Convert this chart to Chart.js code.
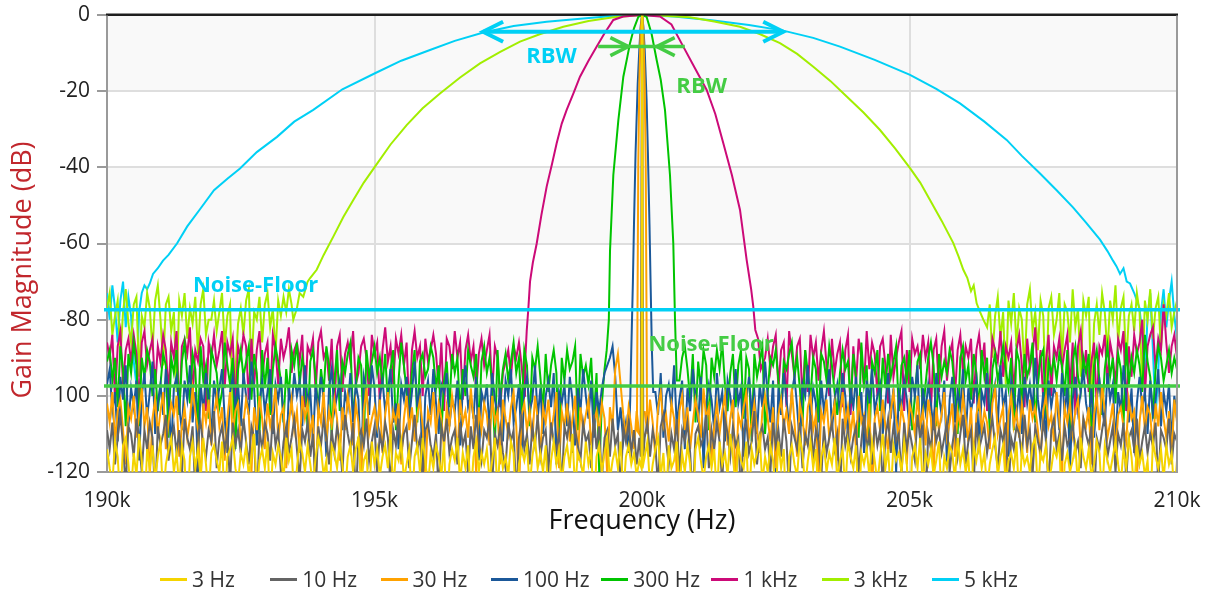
<!DOCTYPE html>
<html>
<head>
<meta charset="utf-8">
<title>RBW sweep – gain magnitude</title>
<script src="https://cdn.jsdelivr.net/npm/chart.js@4.4.1/dist/chart.umd.min.js"></script>
<style>
  html, body { margin: 0; padding: 0; background: #fff; }
  #wrap { position: relative; width: 1210px; height: 592px; overflow: hidden; }
  #chart { position: absolute; left: 0; top: 0; }
  #legend { position: absolute; left: 160px; top: 566px; height: 26px; display: flex; }
  .item { width: 110.3px; display: flex; align-items: center; height: 26px;
          font-family: 'Open Sans', 'Noto Sans', sans-serif; font-size: 21px; color: #333; white-space: nowrap; }
  .swatch { width: 27px; height: 3px; margin-right: 5px; }
</style>
</head>
<body>
<div id="wrap">
  <canvas id="chart" width="1210" height="592"></canvas>
  <div id="legend"></div>
</div>
<script>
// Frequency grid of the noise traces (Hz)
const GRID_START = 190000;
const GRID_END = 210000;
const GRID_STEP = 50;

const SERIES_NAMES = ['3 Hz', '10 Hz', '30 Hz', '100 Hz', '300 Hz', '1 kHz', '3 kHz', '5 kHz'];
const SERIES_COLORS = ['#f5d400', '#646464', '#ffa200', '#1b5899', '#00c400', '#cc0a78', '#a2ee00', '#00d0f5'];

// ---- 3 Hz RBW ----
const HZ3_LEFT = [
-114,-119,-123,-112,-116,-128,-113,-111,-118,-125,
-115,-121,-110,-117,-131,-114,-119,-113,-122,-116,
-112,-127,-118,-114,-111,-120,-115,-124,-113,-117,
-133,-116,-112,-119,-114,-121,-111,-118,-126,-115,
-113,-117,-120,-112,-129,-116,-114,-111,-119,-123,
-115,-118,-113,-121,-116,-110,-125,-117,-114,-119,
-112,-130,-115,-118,-113,-116,-122,-111,-117,-114,
-127,-119,-112,-115,-120,-113,-118,-124,-116,-111,
-114,-121,-117,-132,-113,-115,-119,-112,-118,-126,
-116,-113,-120,-114,-111,-123,-117,-115,-128,-112,
-118,-114,-121,-116,-113,-119,-110,-125,-115,-117,
-112,-122,-118,-114,-129,-116,-113,-120,-111,-117,
-124,-115,-119,-113,-116,-121,-112,-134,-118,-114,
-117,-111,-123,-115,-119,-113,-127,-116,-112,-120,
-115,-118,-114,-122,-117,-111,-126,-113,-119,-116,
-121,-112,-115,-131,-118,-114,-117,-113,-124,-116,
-111,-119,-115,-120,-113,-128,-117,-112,-118,-114,
-123,-116,-113,-119,-110,-125,-115,-117,-121,-112,
-118,-114,-130,-116,-113,-120,-115,-111,-122,-117,
-114,-119,-112,-126,-116,-113,-118,-115,-121,-117];
const HZ3_PEAK_F = [199990, 200000, 200010];
const HZ3_PEAK_DB = [-119, 0, -119];
const HZ3_RIGHT = [
-116,-112,-124,-118,-114,-111,-121,-115,-128,-113,
-119,-117,-112,-125,-115,-120,-113,-118,-131,-114,
-111,-117,-122,-116,-113,-119,-114,-127,-112,-118,
-115,-121,-110,-116,-124,-113,-117,-119,-112,-129,
-114,-118,-115,-111,-123,-116,-120,-113,-117,-126,
-112,-119,-114,-133,-116,-113,-118,-121,-111,-115,
-124,-117,-112,-119,-114,-128,-116,-113,-120,-115,
-118,-111,-122,-117,-114,-125,-112,-116,-119,-113,
-130,-115,-118,-114,-121,-112,-117,-123,-116,-110,
-119,-114,-126,-113,-117,-115,-120,-112,-118,-132,
-116,-113,-119,-111,-124,-115,-118,-114,-121,-117,
-112,-127,-116,-119,-113,-115,-122,-111,-118,-114,
-120,-116,-129,-113,-117,-112,-119,-115,-125,-118,
-114,-111,-121,-116,-113,-123,-117,-115,-119,-112,
-128,-114,-118,-116,-120,-113,-111,-126,-115,-117,
-113,-122,-119,-114,-116,-112,-131,-118,-115,-120,
-117,-113,-124,-111,-116,-119,-114,-121,-118,-112,
-115,-127,-113,-117,-120,-116,-112,-118,-123,-114,
-119,-111,-116,-125,-113,-118,-115,-121,-117,-130,
-112,-116,-119,-114,-122,-113,-118,-115,-126,-117];

// ---- 10 Hz RBW ----
const HZ10_LEFT = [
-109,-114,-107,-118,-111,-105,-113,-124,-108,-110,
-116,-106,-112,-120,-109,-114,-107,-111,-127,-108,
-113,-110,-105,-117,-112,-108,-115,-109,-121,-106,
-111,-114,-108,-126,-110,-107,-113,-116,-109,-112,
-104,-119,-111,-108,-114,-110,-123,-107,-113,-109,
-115,-106,-112,-118,-108,-111,-129,-109,-114,-107,
-110,-117,-105,-113,-109,-120,-112,-108,-115,-111,
-106,-114,-122,-109,-112,-107,-116,-110,-125,-108,
-113,-106,-111,-118,-109,-115,-108,-112,-121,-105,
-110,-114,-107,-128,-111,-109,-113,-106,-117,-112,
-108,-120,-110,-114,-107,-111,-124,-109,-113,-106,
-115,-110,-108,-119,-112,-105,-114,-111,-122,-109,
-107,-113,-116,-110,-126,-108,-112,-106,-115,-111,
-109,-118,-107,-113,-110,-121,-108,-114,-105,-112,
-117,-109,-111,-106,-123,-110,-113,-108,-115,-119,
-107,-112,-109,-127,-111,-106,-114,-110,-118,-108,
-113,-105,-116,-111,-109,-120,-107,-112,-114,-110,
-124,-108,-111,-106,-115,-109,-113,-117,-107,-112,
-110,-119,-105,-114,-108,-122,-111,-109,-116,-106,
-113,-110,-125,-108,-112,-107,-115,-109,-118,-111];
const HZ10_PEAK_F = [199975, 199990, 200000, 200010, 200025];
const HZ10_PEAK_DB = [-116, -45, 0, -45, -116];
const HZ10_RIGHT = [
-111,-107,-116,-109,-113,-124,-108,-105,-112,-118,
-110,-114,-106,-121,-109,-112,-107,-115,-128,-110,
-108,-113,-111,-105,-119,-109,-114,-107,-112,-123,
-106,-110,-116,-108,-113,-111,-126,-109,-107,-115,
-112,-104,-118,-110,-108,-114,-111,-120,-107,-113,
-109,-116,-106,-112,-125,-108,-111,-114,-107,-119,
-110,-113,-105,-117,-109,-112,-122,-108,-115,-111,
-107,-114,-110,-127,-106,-113,-109,-116,-111,-108,
-120,-112,-105,-114,-110,-118,-107,-113,-109,-124,
-111,-106,-115,-108,-112,-110,-121,-107,-114,-109,
-113,-117,-105,-111,-108,-129,-110,-114,-106,-112,
-109,-115,-111,-107,-120,-113,-108,-116,-110,-105,
-118,-112,-109,-123,-107,-114,-111,-108,-115,-110,
-106,-113,-119,-109,-112,-107,-126,-111,-114,-108,
-110,-116,-105,-113,-109,-121,-108,-112,-115,-107,
-111,-124,-109,-106,-114,-110,-117,-108,-113,-111,
-107,-115,-112,-119,-106,-110,-113,-108,-128,-111,
-114,-109,-105,-116,-112,-108,-120,-110,-113,-107,
-122,-111,-109,-114,-106,-117,-112,-108,-115,-110,
-113,-107,-123,-109,-111,-114,-106,-118,-110,-112];

// ---- 30 Hz RBW ----
const HZ30_LEFT = [
-102,-107,-99,-112,-104,-101,-109,-118,-103,-106,
-100,-111,-105,-98,-108,-103,-121,-106,-101,-110,
-104,-99,-114,-107,-102,-105,-100,-116,-108,-103,
-111,-106,-98,-104,-109,-124,-102,-107,-101,-113,
-105,-100,-108,-103,-117,-106,-99,-110,-104,-102,
-112,-107,-101,-105,-120,-103,-109,-100,-106,-114,
-102,-108,-104,-98,-111,-105,-103,-119,-107,-101,
-109,-104,-115,-100,-106,-102,-110,-105,-126,-103,
-107,-99,-112,-104,-108,-101,-106,-117,-103,-109,
-100,-105,-113,-102,-107,-122,-104,-98,-110,-106,
-103,-108,-101,-115,-105,-99,-111,-104,-107,-102,
-118,-106,-100,-109,-103,-112,-105,-101,-108,-123,
-104,-107,-99,-110,-102,-106,-114,-103,-108,-100,
-105,-116,-101,-107,-104,-111,-98,-106,-120,-103,
-109,-102,-105,-113,-100,-107,-104,-118,-101,-106,
-110,-103,-99,-108,-125,-105,-102,-109,-104,-112,
-100,-106,-115,-103,-107,-101,-110,-105,-99,-119,
-104,-108,-102,-112,-106,-100,-117,-103,-109,-105,
-101,-113,-107,-104,-110,-102,-106,-121,-103,-108,
-93,-89,-97,-105,-111,-103,-108,-114,-104,-110];
const HZ30_PEAK_F = [199905, 199915, 199930, 199950, 199975, 200000, 200025, 200050, 200070, 200085, 200095];
const HZ30_PEAK_DB = [-109, -80, -40, -18, -4, 0, -4, -18, -40, -80, -108];
const HZ30_RIGHT = [
-104,-110,-101,-107,-116,-103,-99,-108,-105,-112,
-102,-106,-120,-104,-100,-109,-103,-114,-107,-101,
-105,-111,-98,-106,-103,-118,-108,-102,-110,-104,
-100,-113,-106,-101,-124,-105,-108,-103,-99,-111,
-107,-102,-109,-115,-104,-100,-106,-112,-103,-119,
-105,-101,-108,-104,-110,-98,-107,-116,-102,-106,
-113,-103,-100,-109,-105,-122,-104,-107,-101,-111,
-106,-102,-117,-105,-99,-108,-103,-110,-104,-114,
-100,-107,-105,-112,-102,-126,-106,-103,-109,-101,
-108,-115,-104,-99,-106,-111,-103,-107,-118,-102,
-105,-110,-100,-108,-104,-113,-101,-106,-121,-103,
-109,-105,-99,-111,-107,-102,-116,-104,-108,-100,
-106,-112,-103,-119,-105,-101,-109,-104,-107,-114,
-102,-98,-110,-106,-103,-123,-105,-100,-108,-104,
-111,-102,-107,-115,-101,-106,-103,-109,-117,-104,
-100,-108,-105,-112,-99,-106,-120,-103,-107,-102,
-110,-104,-101,-113,-106,-108,-103,-118,-105,-100,
-109,-97,-104,-111,-107,-102,-115,-105,-103,-108,
-112,-101,-106,-104,-122,-107,-100,-109,-103,-105,
-114,-102,-108,-99,-106,-111,-104,-116,-101,-107];

// ---- 100 Hz RBW ----
const HZ100_LEFT = [
-97,-93,-104,-99,-112,-95,-101,-92,-108,-98,
-103,-96,-117,-100,-94,-106,-99,-91,-110,-102,
-97,-105,-93,-100,-114,-98,-95,-103,-109,-96,
-101,-92,-107,-99,-120,-97,-104,-94,-100,-111,
-96,-102,-98,-93,-106,-115,-99,-95,-103,-97,
-108,-94,-100,-105,-91,-98,-113,-102,-96,-104,
-99,-93,-110,-97,-101,-95,-106,-118,-98,-103,
-94,-100,-96,-108,-92,-102,-99,-112,-97,-105,
-95,-101,-116,-98,-93,-104,-100,-96,-109,-99,
-103,-94,-107,-97,-101,-121,-95,-99,-105,-92,
-98,-111,-100,-96,-104,-99,-93,-107,-102,-114,
-97,-101,-95,-106,-99,-91,-103,-98,-119,-100,
-96,-105,-93,-102,-110,-97,-99,-94,-108,-101,
-104,-96,-113,-98,-92,-103,-100,-106,-95,-117,
-99,-102,-97,-109,-94,-101,-105,-98,-112,-96,
-100,-93,-107,-103,-97,-115,-99,-95,-104,-101,
-92,-106,-98,-110,-100,-96,-103,-94,-118,-99,
-102,-97,-108,-95,-101,-113,-98,-104,-93,-100,
-106,-96,-111,-99,-104,-98,-94,-92,-90,-87,
-95,-109,-103,-112,-107,-115];
const HZ100_PEAK_F = [199780, 199800, 199830, 199850, 199880, 199920, 199950, 199975, 200000, 200025, 200050, 200085, 200110, 200140, 200160, 200185, 200210];
const HZ100_PEAK_DB = [-101, -88, -70, -55, -36, -18, -9, -3, 0, -3, -9, -22, -36, -55, -70, -88, -99];
const HZ100_RIGHT = [
-99,-105,-94,-111,-100,-97,-103,-92,-108,-101,
-96,-114,-98,-104,-93,-100,-107,-95,-119,-102,
-97,-101,-109,-94,-103,-99,-112,-96,-100,-106,
-93,-102,-98,-116,-101,-95,-104,-99,-110,-97,
-103,-91,-100,-107,-96,-121,-98,-105,-94,-101,
-108,-99,-95,-103,-113,-97,-100,-92,-106,-98,
-102,-117,-96,-104,-99,-93,-109,-101,-97,-105,
-94,-100,-111,-98,-103,-95,-107,-99,-115,-96,
-101,-93,-104,-100,-97,-110,-102,-94,-106,-98,
-120,-99,-103,-96,-101,-108,-95,-100,-92,-113,
-98,-104,-97,-102,-109,-94,-100,-105,-96,-118,
-101,-95,-107,-99,-103,-93,-111,-98,-104,-100,
-96,-114,-99,-102,-94,-106,-101,-97,-108,-92,
-103,-99,-116,-96,-100,-105,-98,-110,-95,-102,
-97,-104,-90,-101,-107,-99,-112,-96,-103,-98,
-100,-109,-94,-105,-97,-119,-101,-95,-104,-99,
-93,-102,-106,-98,-111,-100,-96,-103,-108,-94,
-101,-97,-113,-99,-104,-92,-100,-107,-98,-115,
-102,-95,-103,-99,-110,-96,-105,-101,-93,-108,
-99,-104,-97,-112,-100,-106];

// ---- 300 Hz RBW ----
const HZ300_LEFT = [
-91,-88,-96,-90,-103,-87,-93,-108,-89,-94,
-86,-92,-108,-90,-95,-88,-91,-100,-93,-104,
-97,-89,-92,-111,-90,-94,-88,-105,-91,-86,
-95,-102,-89,-93,-109,-87,-96,-92,-106,-88,
-91,-94,-103,-99,-86,-92,-97,-90,-114,-93,
-88,-95,-91,-87,-101,-89,-94,-110,-88,-98,
-90,-105,-93,-87,-91,-96,-107,-93,-100,-88,
-92,-86,-97,-90,-94,-109,-91,-88,-95,-104,
-93,-99,-87,-92,-111,-96,-88,-104,-91,-94,
-89,-86,-106,-98,-90,-92,-112,-88,-95,-91,
-87,-94,-90,-97,-89,-102,-93,-88,-109,-96,
-86,-92,-99,-104,-94,-88,-107,-91,-89,-95,
-93,-87,-90,-98,-92,-110,-96,-91,-103,-89,
-94,-90,-105,-93,-100,-88,-92,-95,-89,-110,
-91,-87,-94,-90,-97,-113,-88,-101,-93,-89,
-96,-91,-86,-94,-90,-105,-88,-92,-108,-90,
-93,-87,-95,-104,-89,-99,-92,-88,-94,-115,
-90,-96,-88,-93,-91,-87,-109,-89,-95,-92,
-97,-90,-106,-94,-120,-102,-93];
const HZ300_PEAK_F = [199340, 199380, 199402, 199464, 199558, 199651, 199726, 199776, 199850, 199931, 200000, 200087, 200180, 200274, 200350, 200430, 200523, 200585, 200617, 200650];
const HZ300_PEAK_DB = [-88, -80, -62, -42, -27.6, -16.2, -11, -7.4, -3.5, -0.5, 0, -0.5, -5, -11.8, -17, -25, -42, -60, -80, -96];
const HZ300_RIGHT = [
-96,-90,-87,-93,-101,-89,-107,-91,-98,-88,
-92,-109,-90,-95,-88,-93,-86,-97,-104,-94,
-89,-103,-92,-88,-106,-90,-93,-112,-89,-95,
-91,-87,-110,-99,-90,-92,-88,-96,-105,-91,
-93,-89,-86,-95,-90,-98,-108,-88,-94,-100,
-90,-93,-107,-89,-91,-96,-87,-92,-99,-105,
-94,-88,-93,-91,-102,-89,-95,-111,-86,-97,
-92,-113,-91,-94,-88,-104,-90,-98,-89,-95,
-91,-87,-104,-92,-90,-96,-88,-109,-100,-91,
-89,-105,-97,-90,-86,-92,-108,-89,-95,-91,
-94,-88,-91,-99,-110,-90,-87,-96,-92,-101,
-89,-94,-104,-88,-95,-90,-110,-93,-89,-96,
-92,-87,-93,-98,-90,-109,-88,-91,-103,-89,
-95,-92,-86,-107,-97,-90,-88,-106,-91,-94,
-90,-96,-89,-92,-100,-88,-112,-91,-87,-95,
-99,-90,-94,-89,-114,-92,-88,-96,-105,-93,
-87,-95,-90,-102,-89,-93,-108,-86,-97,-90,
-94,-88,-92,-99,-84,-91,-95,-106,-93,-87,
-90,-96,-92,-88,-94,-90,-93];

// ---- 1 kHz RBW ----
const KHZ1_LEFT = [
-86,-90,-84,-101,-87,-83,-97,-88,-85,-91,
-84,-89,-102,-86,-83,-92,-88,-85,-98,-87,
-91,-84,-88,-99,-86,-90,-83,-105,-87,-85,
-89,-82,-100,-88,-91,-85,-87,-104,-86,-90,
-84,-92,-88,-83,-98,-86,-89,-85,-103,-87,
-90,-84,-87,-101,-85,-97,-88,-83,-95,-89,
-86,-102,-84,-88,-97,-85,-90,-87,-82,-94,
-88,-86,-91,-84,-103,-87,-89,-85,-99,-86,
-83,-90,-88,-96,-85,-104,-87,-84,-99,-89,
-86,-91,-83,-97,-94,-87,-85,-90,-100,-84,
-89,-86,-102,-88,-82,-91,-87,-97,-85,-89,
-84,-92,-86,-105,-88,-83,-90,-87,-100,-85,
-91,-88,-84,-89,-98,-86,-104,-85,-87,-93,
-83,-90,-86,-101,-88,-84,-91,-87,-99,-89,
-85,-92,-88,-84,-99,-87,-90,-103,-94,-91,
-88,-95,-87,-90,-86,-92];
const KHZ1_PEAK_F = [197800, 197813, 197845, 197876, 197907, 197960, 198032, 198120, 198219, 198320, 198405, 198500, 198592, 198720, 198841, 199000, 199154, 199300, 199464, 199650, 200000, 200336, 200550, 200772, 200990, 201209, 201370, 201520, 201680, 201832, 201956, 202040, 202080, 202118, 202170, 202220];
const KHZ1_PEAK_DB = [-100, -92, -83, -77, -70, -65, -60, -52.5, -45, -39, -33.7, -28.5, -24.9, -20.5, -16.2, -12, -8.3, -4.8, -1.3, -0.4, 0, -0.4, -2.5, -8.3, -14, -19.7, -26, -33.7, -42, -51.2, -64.3, -72, -76.6, -82.7, -85, -93];
const KHZ1_RIGHT = [
-90,-85,-93,-87,-84,-98,-88,-86,-103,-83,
-89,-95,-87,-85,-101,-88,-99,-84,-90,-86,
-96,-88,-83,-92,-100,-85,-94,-89,-86,-103,
-88,-84,-105,-87,-97,-85,-90,-98,-83,-93,
-86,-89,-100,-87,-85,-92,-102,-84,-95,-90,
-86,-83,-104,-88,-99,-85,-89,-87,-93,-84,
-90,-86,-104,-88,-85,-99,-87,-83,-96,-89,
-86,-100,-88,-84,-94,-87,-90,-85,-102,-88,
-84,-92,-86,-104,-97,-85,-88,-91,-83,-95,
-87,-90,-86,-99,-88,-84,-92,-103,-85,-93,
-89,-82,-96,-88,-101,-91,-84,-100,-87,-90,
-85,-93,-88,-84,-98,-86,-105,-87,-83,-94,
-88,-99,-91,-86,-103,-87,-89,-84,-97,-86,
-90,-97,-85,-88,-83,-104,-87,-95,-84,-89,
-86,-80,-100,-87,-84,-82,-93,-85,-88,-76,
-86,-94,-87,-84,-90];

// ---- 3 kHz RBW ----
const KHZ3_LEFT = [
-77,-73,-84,-79,-75,-90,-78,-72,-81,-86,
-76,-74,-95,-79,-82,-73,-77,-88,-75,-71,
-80,-92,-76,-74,-83,-78,-99,-75,-79,-73,
-85,-77,-81,-74,-89,-76,-72,-84,-80,-80,
-75,-83,-78,-73,-87,-79,-76,-106,-94,-81,
-77,-84,-75,-72,-93,-78,-80,-74,-86,-76,
-73,-82,-77,-89,-75,-79,-74,-78,-72,-76];
const KHZ3_PEAK_F = [193482, 193550, 193600, 193669, 193750, 193800, 193919, 194050, 194230, 194420, 194604, 194800, 195009, 195300, 195601, 195900, 196224, 196600, 196972, 197350, 197720, 198100, 198529, 199000, 199464, 200000, 200400, 200897, 201350, 201832, 202200, 202579, 202900, 203202, 203520, 203826, 204140, 204449, 204730, 205010, 205200, 205383, 205600, 205819, 205920, 206006, 206080, 206150, 206200, 206255, 206320, 206380];
const KHZ3_PEAK_DB = [-80, -77, -73, -74, -70, -69, -66.9, -63, -58.2, -53, -48.6, -44, -39.8, -34, -28.9, -24.5, -20.6, -16.4, -12.7, -9.7, -7, -5, -3.1, -1.6, -0.6, 0, -0.2, -0.6, -1.7, -3.1, -5, -7.4, -10.2, -13.6, -17.3, -21.4, -25.6, -30.2, -35, -40.2, -44, -48.6, -54, -59.9, -63.5, -66.9, -69, -72.5, -71, -75.7, -78, -80];
const KHZ3_RIGHT = [
-82,-76,-90,-79,-74,-85,-78,-97,-75,-81,
-73,-87,-77,-80,-94,-76,-72,-83,-78,-88,
-75,-79,-101,-77,-74,-84,-80,-73,-91,-76,
-78,-86,-72,-82,-77,-95,-75,-79,-74,-103,
-81,-76,-84,-73,-78,-89,-75,-80,-71,-86,
-77,-74,-92,-79,-76,-83,-73,-78,-98,-75,
-80,-72,-85,-77,-74,-88,-76,-79,-73,-82,
-78,-75];

// ---- 5 kHz RBW ----
const KHZ5_LEFT = [-73, -80, -71, -77, -86, -75, -70, -82, -74, -79, -91, -97, -78, -73, -71];
const KHZ5_PEAK_F = [190750, 190800, 190860, 190950, 191047, 191150, 191308, 191500, 191738, 192000, 192250, 192486, 192800, 193178, 193500, 193856, 194400, 195009, 195500, 196037, 196500, 197034, 197600, 198218, 198900, 199500, 200000, 200600, 201300, 202000, 202641, 203200, 203701, 204350, 205010, 205500, 205944, 206400, 206816, 207100, 207440, 207750, 208056, 208300, 208561, 208700, 208804, 208870, 208935, 209000, 209060, 209122, 209200];
const KHZ5_PEAK_DB = [-72, -70.5, -68, -66.5, -64.5, -63, -60, -55.5, -51, -46, -43, -40.3, -36, -32, -28, -24.9, -19.5, -15.3, -12, -9.2, -6.8, -4.6, -2.9, -1.8, -0.9, -0.2, 0, -0.4, -1.4, -2.6, -4.1, -6, -8.3, -11.8, -15.7, -19.4, -23.2, -28, -32.8, -37, -41.6, -46, -50.5, -54.5, -59, -62, -64.5, -66, -68, -66.5, -70, -70.5, -73];
const KHZ5_RIGHT = [-77, -84, -95, -79, -73, -88, -106, -93, -78, -72, -82, -75, -70, -79, -85];

// Reference lines and markers
const NOISE_FLOOR_DB = [-77.4, -97.4];
const NOISE_FLOOR_COLORS = ['#00d0f5', '#44cc44'];
const RBW_WIDE_F = [197030, 202640];
const RBW_WIDE_DB = -4.4;
const RBW_NARROW_F = [199180, 199745, 200275, 200800];
const RBW_NARROW_DB = -8.3;
const LABEL_TEXT = ['RBW', 'RBW', 'Noise-Floor', 'Noise-Floor'];
const LABEL_F = [198310, 201115, 192776, 201290];
const LABEL_DB = [-10.9, -18.8, -71.0, -86.7];
const LABEL_COLORS = ['#00d0f5', '#44cc44', '#00d0f5', '#44cc44'];

const X_TICKS = [190000, 195000, 200000, 205000, 210000];
const Y_TICKS = [0, -20, -40, -60, -80, -100, -120];
const Y_TICK_TEXT = ['0', '-20', '-40', '-60', '-80', '100', '-120'];

function buildSeries(left, peakF, peakDb, right) {
  const pts = [];
  left.forEach((v, i) => pts.push({ x: GRID_START + i * GRID_STEP, y: v }));
  peakF.forEach((f, i) => pts.push({ x: f, y: peakDb[i] }));
  const rStart = GRID_END - (right.length - 1) * GRID_STEP;
  right.forEach((v, i) => pts.push({ x: rStart + i * GRID_STEP, y: v }));
  return pts;
}

const SERIES_DATA = [
  buildSeries(HZ3_LEFT, HZ3_PEAK_F, HZ3_PEAK_DB, HZ3_RIGHT),
  buildSeries(HZ10_LEFT, HZ10_PEAK_F, HZ10_PEAK_DB, HZ10_RIGHT),
  buildSeries(HZ30_LEFT, HZ30_PEAK_F, HZ30_PEAK_DB, HZ30_RIGHT),
  buildSeries(HZ100_LEFT, HZ100_PEAK_F, HZ100_PEAK_DB, HZ100_RIGHT),
  buildSeries(HZ300_LEFT, HZ300_PEAK_F, HZ300_PEAK_DB, HZ300_RIGHT),
  buildSeries(KHZ1_LEFT, KHZ1_PEAK_F, KHZ1_PEAK_DB, KHZ1_RIGHT),
  buildSeries(KHZ3_LEFT, KHZ3_PEAK_F, KHZ3_PEAK_DB, KHZ3_RIGHT),
  buildSeries(KHZ5_LEFT, KHZ5_PEAK_F, KHZ5_PEAK_DB, KHZ5_RIGHT)
];

const FONT = "'Open Sans', 'Noto Sans', sans-serif";
Chart.defaults.font.family = FONT;

// Alternating horizontal bands behind the grid
const bandPlugin = {
  id: 'bands',
  beforeDraw(chart) {
    const { ctx, chartArea: a, scales: { y } } = chart;
    ctx.save();
    for (let i = 0; i < Y_TICKS.length - 1; i++) {
      ctx.fillStyle = i % 2 === 0 ? '#f9f9f9' : '#ffffff';
      const top = y.getPixelForValue(Y_TICKS[i]);
      const bot = y.getPixelForValue(Y_TICKS[i + 1]);
      ctx.fillRect(a.left, top, a.right - a.left, bot - top);
    }
    ctx.restore();
  }
};

function chevron(ctx, tipX, tipY, dir, len, half) {
  ctx.beginPath();
  ctx.moveTo(tipX - dir * len, tipY - half);
  ctx.lineTo(tipX, tipY);
  ctx.lineTo(tipX - dir * len, tipY + half);
  ctx.stroke();
}

// Noise-floor lines, RBW arrows and their captions
const markerPlugin = {
  id: 'markers',
  afterDatasetsDraw(chart) {
    const { ctx, chartArea: a, scales: { x, y } } = chart;
    ctx.save();
    ctx.lineCap = 'butt';
    NOISE_FLOOR_DB.forEach((db, i) => {
      const py = y.getPixelForValue(db);
      ctx.strokeStyle = NOISE_FLOOR_COLORS[i];
      ctx.lineWidth = 3.5;
      ctx.beginPath();
      ctx.moveTo(a.left - 3, py);
      ctx.lineTo(a.right + 3, py);
      ctx.stroke();
    });

    // wide RBW: double arrow pointing outward
    let py = y.getPixelForValue(RBW_WIDE_DB);
    const x1 = x.getPixelForValue(RBW_WIDE_F[0]);
    const x2 = x.getPixelForValue(RBW_WIDE_F[1]);
    ctx.strokeStyle = '#00d0f5';
    ctx.lineWidth = 4;
    ctx.lineJoin = 'miter';
    ctx.beginPath();
    ctx.moveTo(x1, py);
    ctx.lineTo(x2, py);
    ctx.stroke();
    chevron(ctx, x1, py, -1, 20, 10);
    chevron(ctx, x2, py, 1, 20, 10);

    // narrow RBW: arrows pointing inward
    py = y.getPixelForValue(RBW_NARROW_DB);
    const n = RBW_NARROW_F.map(f => x.getPixelForValue(f));
    ctx.strokeStyle = '#44cc44';
    ctx.lineWidth = 3.5;
    ctx.beginPath();
    ctx.moveTo(n[0], py);
    ctx.lineTo(n[3], py);
    ctx.stroke();
    chevron(ctx, n[1], py, 1, 18, 9);
    chevron(ctx, n[2], py, -1, 18, 9);

    ctx.font = 'bold 22px ' + FONT;
    ctx.textAlign = 'center';
    ctx.textBaseline = 'middle';
    LABEL_TEXT.forEach((t, i) => {
      ctx.fillStyle = LABEL_COLORS[i];
      ctx.fillText(t, x.getPixelForValue(LABEL_F[i]), y.getPixelForValue(LABEL_DB[i]));
    });
    ctx.restore();
  },
  afterDraw(chart) {
    const { ctx, chartArea: a } = chart;
    ctx.save();
    // top and right frame
    ctx.strokeStyle = '#9a9a9a';
    ctx.lineWidth = 2;
    ctx.beginPath();
    ctx.moveTo(a.right, a.top);
    ctx.lineTo(a.right, a.bottom);
    ctx.stroke();
    ctx.strokeStyle = '#1e1e1e';
    ctx.beginPath();
    ctx.moveTo(a.left - 1, a.top - 0.5);
    ctx.lineTo(a.right + 1, a.top - 0.5);
    ctx.stroke();
    // vertical axis title
    ctx.translate(23, 270);
    ctx.rotate(-Math.PI / 2);
    ctx.font = '27px ' + FONT;
    ctx.fillStyle = '#c1272d';
    ctx.textAlign = 'center';
    ctx.textBaseline = 'middle';
    ctx.fillText('Gain Magnitude (dB)', 0, 0);
    ctx.restore();
  }
};

const chart = new Chart(document.getElementById('chart'), {
  type: 'line',
  data: {
    datasets: SERIES_NAMES.map((name, i) => ({
      label: name,
      data: SERIES_DATA[i],
      borderColor: SERIES_COLORS[i],
      backgroundColor: SERIES_COLORS[i],
      borderWidth: 2,
      pointRadius: 0,
      tension: 0,
      fill: false
    }))
  },
  options: {
    responsive: false,
    animation: false,
    parsing: false,
    normalized: true,
    layout: { padding: { top: 15, right: 33, bottom: 54, left: 0 } },
    plugins: { legend: { display: false }, tooltip: { enabled: false } },
    scales: {
      x: {
        type: 'linear',
        min: GRID_START,
        max: GRID_END,
        afterBuildTicks: s => { s.ticks = X_TICKS.map(v => ({ value: v })); },
        ticks: {
          callback: v => (v / 1000) + 'k',
          font: { size: 21 },
          color: '#222',
          padding: 16,
          maxRotation: 0,
          autoSkip: false
        },
        grid: { color: '#dedede', lineWidth: 2, drawTicks: false },
        border: { display: true, color: '#9a9a9a', width: 2 },
        title: { display: true, text: 'Frequency (Hz)', font: { size: 27 }, color: '#111', padding: { top: 0, bottom: 0 } },
        afterFit: s => { s.height = 66; s.paddingLeft = 0; s.paddingRight = 0; }
      },
      y: {
        type: 'linear',
        min: -120,
        max: 0,
        afterBuildTicks: s => { s.ticks = Y_TICKS.map(v => ({ value: v })); },
        ticks: {
          callback: v => Y_TICK_TEXT[Y_TICKS.indexOf(v)],
          font: { size: 21 },
          color: '#222',
          padding: 7
        },
        grid: {
          color: c => (c.tick && c.tick.value === 0) ? '#1e1e1e' : '#dedede',
          lineWidth: 2,
          tickLength: 10,
          tickColor: '#9a9a9a'
        },
        border: { display: true, color: '#9a9a9a', width: 2 },
        afterFit: s => { s.width = 107; s.paddingTop = 0; s.paddingBottom = 0; }
      }
    }
  },
  plugins: [bandPlugin, markerPlugin]
});

// legend with fixed-width slots
const legend = document.getElementById('legend');
SERIES_NAMES.forEach((name, i) => {
  const item = document.createElement('div');
  item.className = 'item';
  const sw = document.createElement('span');
  sw.className = 'swatch';
  sw.style.background = SERIES_COLORS[i];
  const tx = document.createElement('span');
  tx.textContent = name;
  item.appendChild(sw);
  item.appendChild(tx);
  legend.appendChild(item);
});
</script>
</body>
</html>
